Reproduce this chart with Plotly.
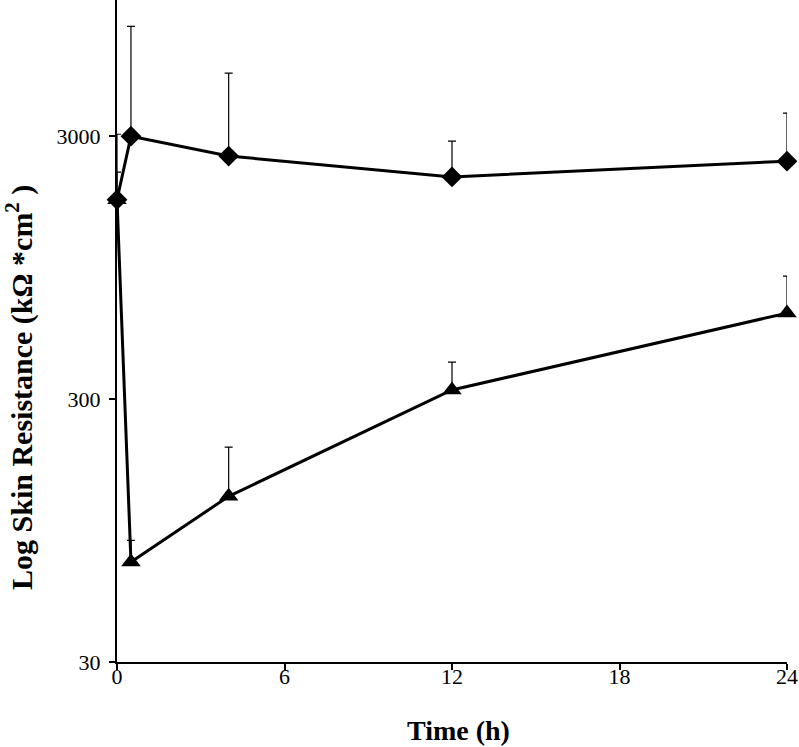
import math
import plotly.graph_objects as go

time_h = [0, 0.5, 4, 12, 24]

diamond_vals = [1720, 3000, 2520, 2100, 2410]
diamond_err = [1330, 4850, 2690, 770, 1260]

triangle_vals = [1720, 72, 128, 325, 637]
triangle_err = [470, 15, 69, 90, 244]

y_tick_vals = [30, 300, 3000]
y_tick_text = ["30", "300", "3000"]
x_tick_vals = [0, 6, 12, 18, 24]

fig = go.Figure()

fig.add_trace(go.Scatter(
    x=time_h, y=diamond_vals, mode="lines+markers",
    line=dict(color="black", width=3),
    marker=dict(symbol="diamond", size=16, color="black"),
    error_y=dict(type="data", symmetric=False, array=diamond_err,
                 arrayminus=[0] * len(diamond_err), color="black",
                 thickness=1.2, width=4),
    showlegend=False, cliponaxis=False,
))

fig.add_trace(go.Scatter(
    x=time_h, y=triangle_vals, mode="lines+markers",
    line=dict(color="black", width=3),
    marker=dict(symbol="triangle-up", size=17, color="black"),
    error_y=dict(type="data", symmetric=False, array=triangle_err,
                 arrayminus=[0] * len(triangle_err), color="black",
                 thickness=1.2, width=4),
    showlegend=False, cliponaxis=False,
))

font_family = "Liberation Serif, Times New Roman, serif"
plot_w = 799 - 117 - 12
plot_h = 747 - 85

fig.update_layout(
    width=799, height=747,
    margin=dict(l=117, r=12, t=0, b=85),
    paper_bgcolor="white", plot_bgcolor="white",
    font=dict(family=font_family, color="black", size=22),
    xaxis=dict(
        range=[0, 24], tickvals=x_tick_vals, showgrid=False, zeroline=False,
        showline=True, linecolor="black", linewidth=2,
        ticks="outside", ticklen=6, tickwidth=1.5, tickcolor="black",
        tickfont=dict(size=22, family=font_family), ticklabelstandoff=-12,
        automargin=False,
    ),
    yaxis=dict(
        type="log", range=[math.log10(30), 3.995],
        tickvals=y_tick_vals, ticktext=y_tick_text, showgrid=False, zeroline=False,
        showline=True, linecolor="black", linewidth=2,
        ticks="outside", ticklen=6, tickwidth=1.5, tickcolor="black",
        tickfont=dict(size=22, family=font_family), ticklabelstandoff=4,
        automargin=False,
    ),
    annotations=[
        dict(
            text="<b>Log Skin Resistance (kΩ *cm<sup>2</sup> )</b>",
            xref="paper", yref="paper", x=(19 - 117) / plot_w, y=1 - 388 / plot_h,
            xanchor="center", yanchor="middle", textangle=-90, showarrow=False,
            font=dict(size=30, family=font_family, color="black"),
        ),
        dict(
            text="<b>Time (h)</b>",
            xref="paper", yref="paper", x=(458 - 117) / plot_w, y=1 - 730 / plot_h,
            xanchor="center", yanchor="middle", showarrow=False,
            font=dict(size=28, family=font_family, color="black"),
        ),
    ],
)

fig.write_html("out.html", post_script="document.body.style.margin='0';",
               config={"displayModeBar": False})
